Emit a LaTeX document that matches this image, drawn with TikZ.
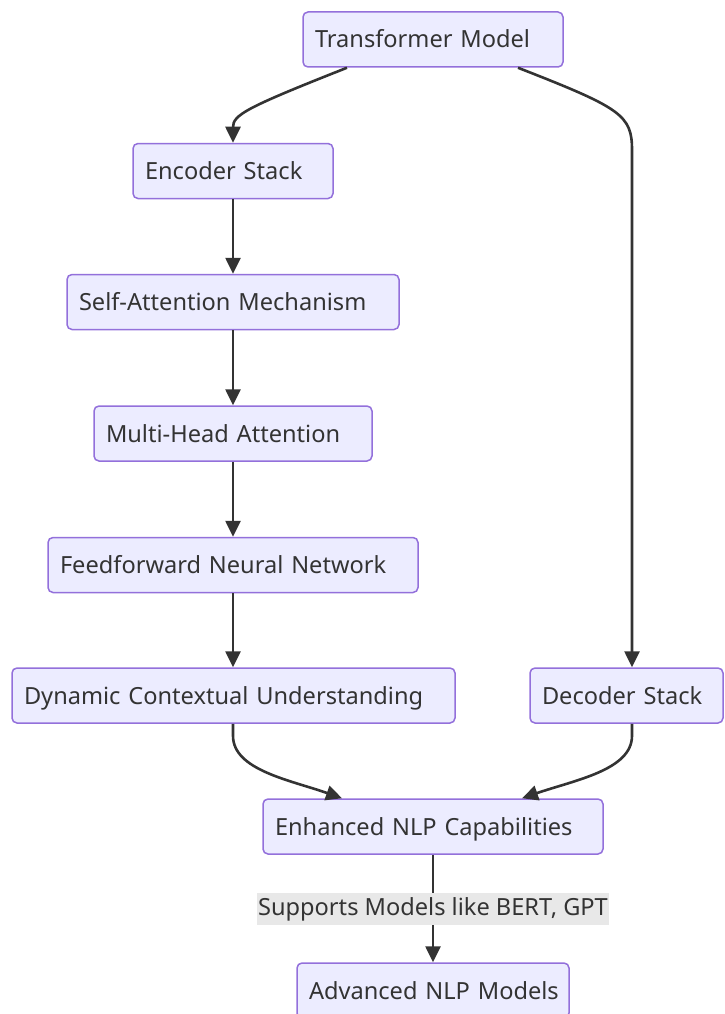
\documentclass[tikz,border=0pt]{standalone}
\usepackage{fontspec}
\setmainfont{Noto Sans}
\usetikzlibrary{arrows.meta}
\definecolor{boxfill}{HTML}{ECECFF}
\definecolor{boxline}{HTML}{9370DB}
\definecolor{ink}{HTML}{333333}
\definecolor{labelbg}{HTML}{E8E8E8}
\begin{document}
\begin{tikzpicture}[x=1pt,y=-1pt,
  box/.style={draw=boxline, fill=boxfill, line width=1.5pt, rounded corners=5pt,
    inner xsep=12pt, inner ysep=0pt, minimum height=55pt, align=left,
    text height=17pt, text depth=0pt,
    text=ink, font=\fontsize{23.6}{28}\selectfont},
  flow/.style={draw=ink, line width=2.6pt,
    -{Triangle[length=16pt,width=15pt]}},
  edgelabel/.style={fill=labelbg, text=ink, inner xsep=1pt, inner ysep=2pt,
    minimum height=32pt, font=\fontsize{23.6}{28}\selectfont}]
\useasboundingbox (0,0) rectangle (724,1014);

% nodes
\node[box, text width=236pt] (tm)  at (433,39.5)  {\mbox{Transformer Model}};
\node[box, text width=176pt] (enc) at (233,171)   {\mbox{Encoder Stack}};
\node[box, text width=308pt] (sa)  at (233,302)   {\mbox{Self-Attention Mechanism}};
\node[box, text width=254pt] (mh)  at (233,433.5) {\mbox{Multi-Head Attention}};
\node[box, text width=346pt] (ff)  at (233,565)   {\mbox{Feedforward Neural Network}};
\node[box, text width=419pt] (dcu) at (233.5,695.5) {\mbox{Dynamic Contextual Understanding}};
\node[box, text width=169pt] (dec) at (626.5,695.5) {\mbox{Decoder Stack}};
\node[box, text width=316pt] (enh) at (433,826.5) {\mbox{Enhanced NLP Capabilities}};
\node[box, text width=248pt] (adv) at (433,990.5) {\mbox{Advanced NLP Models}};

% connectors
\draw[flow] ([xshift=-86pt]tm.south) .. controls (245,108) and (233,115) .. (enc.north);
\draw[flow] ([xshift=85pt]tm.south) .. controls (621,108) and (632,115) .. (632,150)
  -- ([xshift=5.5pt]dec.north);
\draw[flow] (enc) -- (sa);
\draw[flow] (sa) -- (mh);
\draw[flow] (mh) -- (ff);
\draw[flow] (ff) -- (dcu.north -| ff.south);
\draw[flow] (dcu.south -| ff.south) -- ++(0,12)
  .. controls (233,770) and (290,780) .. ([xshift=-91pt]enh.north);
\draw[flow] ([xshift=5.5pt]dec.south) -- ++(0,12)
  .. controls (632,770) and (575,780) .. ([xshift=89pt]enh.north);
\draw[flow] (enh) -- (adv);
\node[edgelabel] (lbl) at (433,909) {Supports Models like BERT, GPT};
\end{tikzpicture}
\end{document}
